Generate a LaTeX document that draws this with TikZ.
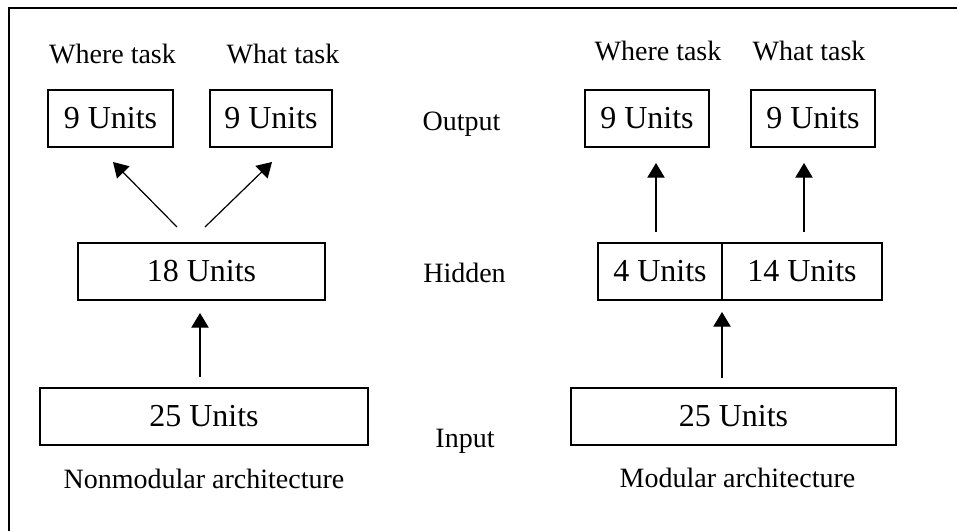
\documentclass[tikz,border=0pt]{standalone}
\usepackage{fontspec}
\setmainfont{Liberation Serif}
\usetikzlibrary{arrows.meta,calc}
\tikzset{
  unitbox/.style    = {draw,line width=1.4pt,inner sep=0pt,outer sep=0pt,minimum height=42.75pt,
                       font=\fontsize{24}{28}\selectfont},
  tasklabel/.style  = {inner sep=0pt,font=\fontsize{21}{25}\selectfont},
  layerlabel/.style = {inner sep=0pt,font=\fontsize{21}{25}\selectfont},
  uparr/.style      = {-{Triangle[length=11pt,width=13pt]},line width=0.9pt},
  framelin/.style   = {line width=1.6pt}
}

\begin{document}
\begin{tikzpicture}[x=0.75pt,y=-0.75pt]
  \useasboundingbox (0,0) rectangle (957,531);
  \draw[framelin] (9,531) -- (9,8) -- (957,8);

  % nonmodular net
  \node[unitbox,minimum width=93.75pt] (whereA) at (110.5,118.5) {9 Units};
  \node[unitbox,minimum width=91.5pt]  (whatA)  at (271,118.5)   {9 Units};
  \node[unitbox,minimum width=185.25pt] (hidA)  at (201.5,271.5) {18 Units};
  \node[unitbox,minimum width=246pt]   (inA)    at (204,416.5)   {25 Units};
  \node[tasklabel] (whereAlab) at (112.5,54) {Where task};
  \node[tasklabel] (whatAlab)  at (283,54)   {What task};
  \node[layerlabel] (archA) at (204,479) {Nonmodular architecture};
  \draw[uparr] ($(hidA.north)+(-24.5,-16)$) -- ($(whereA.south)+(2.5,15)$);
  \draw[uparr] ($(hidA.north)+(3.5,-16)$)   -- ($(whatA.south)+(1,15)$);
  \draw[uparr] ($(inA.north)+(-4,-11)$)     -- ($(hidA.south)+(-1.5,13)$);

  % layer names
  \node[layerlabel] (outlab) at (461.5,124) {Output};
  \node[layerlabel] (hidlab) at (464.5,273) {Hidden};
  \node[layerlabel] (inlab)  at (465,441)   {Input};

  % modular net
  \node[unitbox,minimum width=93pt]     (whereB) at (647,118.5)   {9 Units};
  \node[unitbox,minimum width=93pt]     (whatB)  at (813,118.5)   {9 Units};
  \node[unitbox,minimum width=93pt]     (hidB1)  at (660,271.5)   {4 Units};
  \node[unitbox,minimum width=120pt]    (hidB2)  at (802,271.5)   {14 Units};
  \node[unitbox,minimum width=243.75pt] (inB)    at (733.5,416.5) {25 Units};
  \node[tasklabel] (whereBlab) at (658,50.5) {Where task};
  \node[tasklabel] (whatBlab)  at (809,50.5) {What task};
  \node[layerlabel] (archB) at (737.5,478) {Modular architecture};
  \draw[uparr] ($(hidB1.north)+(-4,-11)$)  -- ($(whereB.south)+(9,16)$);
  \draw[uparr] ($(hidB2.north)+(2,-11)$)   -- ($(whatB.south)+(-9,16)$);
  \draw[uparr] ($(inB.north)+(-11.5,-10)$) -- ($(hidB1.south east)+(0,12)$);
\end{tikzpicture}
\end{document}
